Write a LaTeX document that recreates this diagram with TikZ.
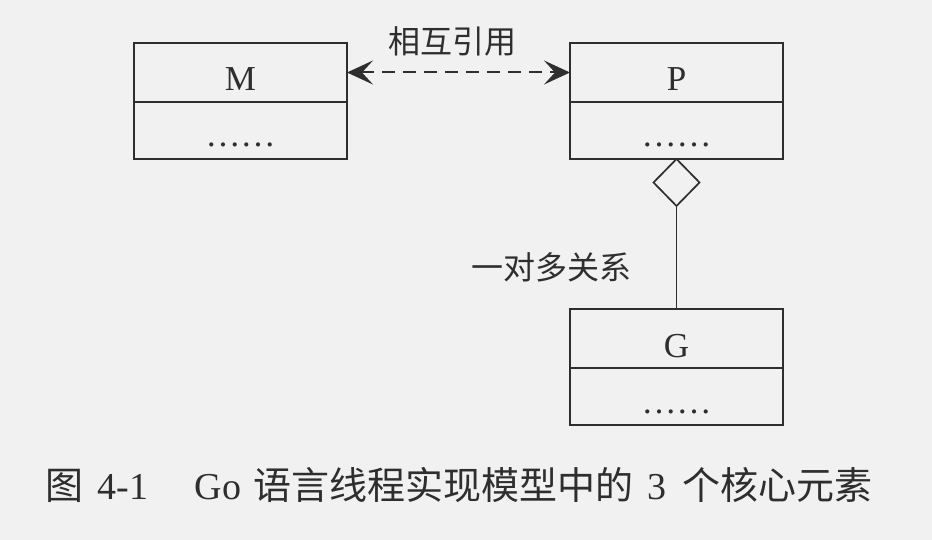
\documentclass[tikz,border=0pt]{standalone}
\usepackage{fontspec}
\setmainfont{Liberation Serif}
\newfontfamily\cjk{Noto Sans CJK SC}
\usetikzlibrary{positioning,shapes.geometric,arrows.meta}
\definecolor{trait}{HTML}{2E2E2E}
\definecolor{fond}{HTML}{F1F1F1}

\begin{document}
\begin{tikzpicture}[x=0.5pt,y=-0.5pt]
\tikzset{haut/.style={draw=trait, text=trait, line width=1pt, outer sep=0pt, minimum width=106.5pt, inner xsep=0pt, inner ysep=0pt, text height=24pt, text depth=5.5pt, font=\fontsize{17.5}{21}\selectfont},
bas/.style={haut, text height=22.5pt, text depth=6pt},
losange/.style={draw=trait, diamond, line width=0.85pt, outer sep=0pt, minimum width=23pt, minimum height=23.5pt, inner sep=0pt},
etiq/.style={text=trait, font=\cjk\fontsize{16}{20}\selectfont},
fleche/.tip={Stealth[length=13pt, width=12pt, inset=5.5pt]}}
\useasboundingbox (0,0) rectangle (932,540);
\fill[fond] (0,0) rectangle (932,540);
\node[haut] (Mh) at (240.5,72.5) {M};
\node[bas, below=0pt of Mh] (Mb) {……};
\node[haut] (Ph) at (676.5,72.5) {P};
\node[bas, below=0pt of Ph] (Pb) {……};
\node[losange, below=0pt of Pb] (L) {};
\node[haut] (Gh) at (676.5,338.5) {G};
\node[bas, below=0pt of Gh] (Gb) {……};
\node[etiq] (ref) at (452,41) {相互引用};
\node[etiq] (rel) at (551,267) {一对多关系};
\draw[trait, line width=1pt, dash pattern=on 6.5pt off 4pt, fleche-fleche] (Mh) -- (Ph);
\draw[trait, line width=0.85pt] (L) -- (Gh);
\node[text=trait, font=\fontsize{19}{23}\selectfont] (legende) at (459,485) {{\cjk 图}\hspace{7pt}4-1\hspace{23pt}Go\hspace{6pt}{\cjk 语言线程实现模型中的}\hspace{7pt}3\hspace{8pt}{\cjk 个核心元素}};
\end{tikzpicture}
\end{document}
